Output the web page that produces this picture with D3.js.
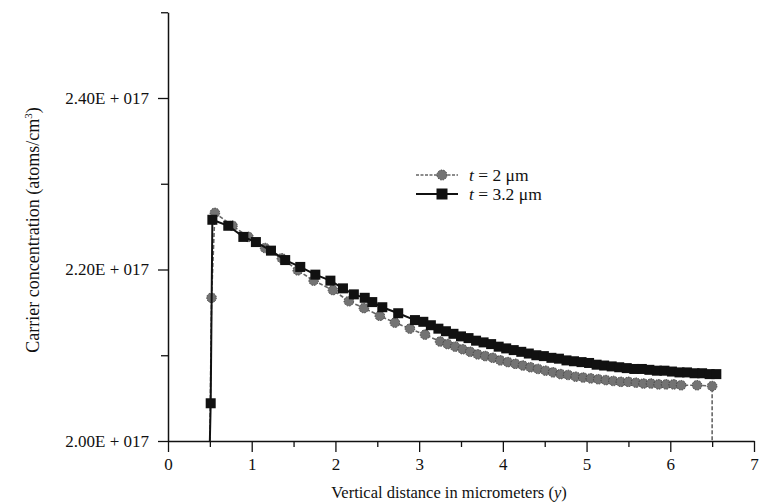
<!DOCTYPE html>
<html><head><meta charset="utf-8">
<script src="https://cdn.jsdelivr.net/npm/d3@7"></script>
<style>body{margin:0;background:#fff}svg{display:block}text{font-family:"Liberation Serif","Times New Roman",serif;fill:#111}</style>
</head><body><svg id="c" width="763" height="503"></svg>
<script>
// values in units of 1E+017 atoms/cm^3
const xCircle = [0.50,0.52,0.56,0.77,0.96,1.16,1.36,1.55,1.74,1.97,2.16,2.34,2.53,2.71,2.89,3.07,3.25,
  3.34,3.43,3.52,3.61,3.70,3.79,3.88,3.97,4.06,4.15,4.24,4.33,4.42,4.51,4.60,4.69,4.78,4.87,4.96,
  5.05,5.14,5.23,5.32,5.41,5.50,5.59,5.68,5.77,5.86,5.95,6.04,6.13,6.32,6.50,6.50];
const yCircle = [2.000,2.167,2.266,2.251,2.238,2.225,2.213,2.199,2.187,2.176,2.163,2.155,2.146,2.138,2.131,2.124,2.116,
  2.113,2.110,2.107,2.104,2.101,2.099,2.097,2.094,2.092,2.090,2.088,2.086,2.084,2.082,2.080,2.078,2.077,2.075,2.074,
  2.073,2.072,2.071,2.070,2.069,2.069,2.068,2.067,2.067,2.066,2.066,2.066,2.065,2.065,2.064,2.000];
const xSquare = [0.50,0.51,0.53,0.72,0.90,1.05,1.23,1.40,1.58,1.76,1.94,2.09,2.22,2.35,2.44,2.56,2.75,2.95,3.05,
  3.14,3.23,3.32,3.41,3.50,3.59,3.68,3.77,3.86,3.95,4.04,4.13,4.22,4.31,4.40,4.49,4.58,4.67,4.76,4.85,4.94,
  5.03,5.12,5.21,5.30,5.39,5.48,5.57,5.66,5.75,5.84,5.93,6.02,6.11,6.20,6.29,6.38,6.47,6.55];
const ySquare = [2.000,2.044,2.258,2.251,2.238,2.232,2.222,2.211,2.203,2.194,2.187,2.178,2.171,2.167,2.162,2.156,2.149,2.141,2.139,
  2.135,2.131,2.128,2.125,2.122,2.120,2.117,2.115,2.113,2.110,2.108,2.106,2.104,2.102,2.100,2.099,2.097,2.096,2.094,2.093,2.092,
  2.091,2.089,2.088,2.087,2.086,2.085,2.084,2.084,2.083,2.082,2.082,2.081,2.080,2.080,2.079,2.079,2.078,2.078];
const xTicks = [0,1,2,3,4,5,6,7];
const xMinorTicks = [0.5,1.5,2.5,3.5,4.5,5.5,6.5];
const yTicks = [2.0,2.2,2.4];
const yTickLabels = ["2.00E + 017","2.20E + 017","2.40E + 017"];
const yMinorTicks = [2.1,2.3,2.5];
const seriesNames = ["2 \u03bcm","3.2 \u03bcm"];

const svg = d3.select("#c");
const x = d3.scaleLinear().domain([0,7]).range([168,754]);
const y = d3.scaleLinear().domain([2.0,2.5]).range([441,12.25]);

// axes
const gx = svg.append("g").attr("transform","translate(0,441)");
gx.call(d3.axisBottom(x).tickValues(xTicks).tickSize(11).tickPadding(6).tickFormat(d3.format("d")).tickSizeOuter(0));
gx.append("g").call(d3.axisBottom(x).tickValues(xMinorTicks).tickSize(6).tickFormat("").tickSizeOuter(0)).select(".domain").remove();
const gy = svg.append("g").attr("transform","translate(168,0)");
gy.call(d3.axisLeft(y).tickValues(yTicks).tickSize(10).tickPadding(9).tickFormat((d,i)=>yTickLabels[i]).tickSizeOuter(0));
gy.append("g").call(d3.axisLeft(y).tickValues(yMinorTicks).tickSize(7).tickFormat("").tickSizeOuter(0)).select(".domain").remove();
svg.selectAll(".domain").attr("stroke","#111").attr("stroke-width",1.5);
svg.selectAll(".tick line").attr("stroke","#111").attr("stroke-width",1.3);
svg.selectAll(".tick text").attr("font-size",17).attr("fill","#111").style("font-family","Liberation Serif");

// axis titles
const xt = svg.append("text").attr("x",449).attr("y",498).attr("text-anchor","middle").attr("font-size",16.5);
xt.append("tspan").text("Vertical distance in micrometers (");
xt.append("tspan").attr("font-style","italic").text("y");
xt.append("tspan").text(")");
const yt = svg.append("text").attr("transform","translate(39,230) rotate(-90)").attr("text-anchor","middle").attr("font-size",18);
yt.append("tspan").text("Carrier concentration (atoms/cm");
yt.append("tspan").attr("font-size",11).attr("dy",-7).text("3");
yt.append("tspan").attr("dy",7).text(")");

const line = d3.line().x(d=>x(d[0])).y(d=>y(d[1]));
const circ = xCircle.map((v,i)=>[v,yCircle[i]]);
const sq = xSquare.map((v,i)=>[v,ySquare[i]]);

// circle series
svg.append("path").attr("d",line(circ)).attr("fill","none").attr("stroke","#666").attr("stroke-width",1.6).attr("stroke-dasharray","4,2");
svg.append("g").selectAll("circle").data(circ.filter(d=>d[1]>2.0)).join("circle")
  .attr("cx",d=>x(d[0])).attr("cy",d=>y(d[1])).attr("r",4.8)
  .attr("fill","#737373").attr("stroke","#444").attr("stroke-width",1).attr("stroke-dasharray","1.5,1.2");

// square series
svg.append("path").attr("d",line(sq)).attr("fill","none").attr("stroke","#111").attr("stroke-width",2);
svg.append("g").selectAll("rect").data(sq.filter(d=>d[1]>2.0)).join("rect")
  .attr("x",d=>x(d[0])-5).attr("y",d=>y(d[1])-5).attr("width",10).attr("height",10).attr("fill","#111");

// legend
const lg = svg.append("g");
const rows = [{y:175,type:"c"},{y:194,type:"s"}];
rows.forEach((r,i)=>{
  lg.append("line").attr("x1",416).attr("x2",458).attr("y1",r.y).attr("y2",r.y)
    .attr("stroke",r.type==="c"?"#666":"#111").attr("stroke-width",r.type==="c"?1.6:2)
    .attr("stroke-dasharray",r.type==="c"?"3,1.5":null);
  if(r.type==="c") lg.append("circle").attr("cx",442).attr("cy",r.y).attr("r",5).attr("fill","#737373").attr("stroke","#444").attr("stroke-dasharray","1.5,1.2");
  else lg.append("rect").attr("x",436.5).attr("y",r.y-5.5).attr("width",11).attr("height",11).attr("fill","#111");
  const t = lg.append("text").attr("x",469).attr("y",r.y+5.5).attr("font-size",17.5);
  t.append("tspan").attr("font-style","italic").text("t");
  t.append("tspan").text(" = "+seriesNames[i]);
});
</script></body></html>
